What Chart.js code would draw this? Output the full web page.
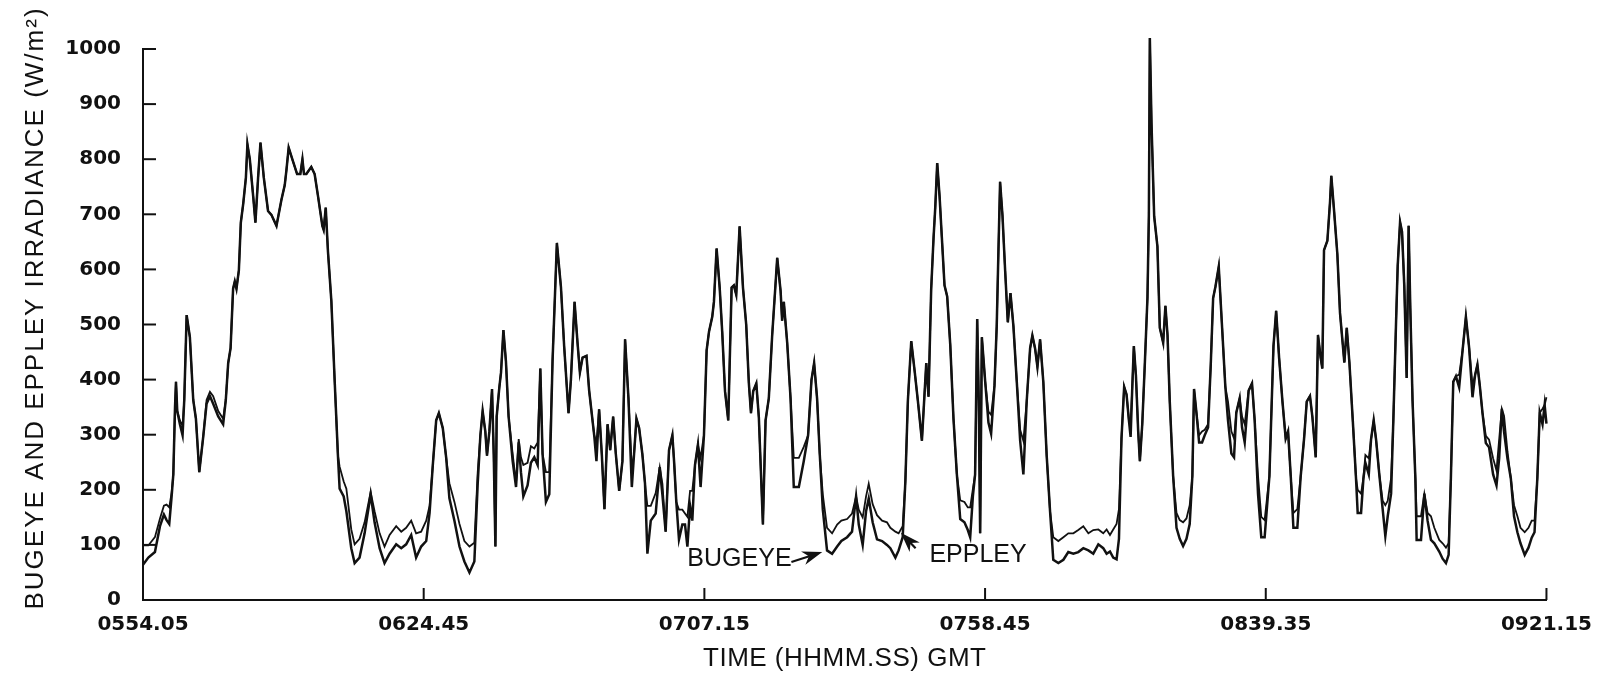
<!DOCTYPE html>
<html>
<head>
<meta charset="utf-8">
<script src="https://cdn.jsdelivr.net/npm/chart.js@4"></script>
<style>
  html, body { margin: 0; padding: 0; background: #fff; }
  .chart__box { width: 1597px; height: 674px; position: relative; }
</style>
</head>
<body>
<div class="chart__box"><canvas id="irradianceChart"></canvas></div>
<script>
// x is position along the record, 0 = 0554.05, 100 = 0921.15
const timeLabels = ['0554.05', '0624.45', '0707.15', '0758.45', '0839.35', '0921.15']
const timeTickPos = [0, 20, 40, 60, 80, 100]

const recordPos = [
  0.00, 0.38, 0.85, 1.21, 1.49, 1.68, 1.87, 2.04, 2.16, 2.28, 2.35, 2.44, 2.63, 2.82, 2.94, 3.11, 3.34, 3.58, 3.77, 4.01,
  4.29, 4.53, 4.77, 5.00, 5.36, 5.71, 5.90, 6.07, 6.24, 6.42, 6.54, 6.66, 6.83, 6.97, 7.14, 7.33, 7.44, 7.61, 7.85, 8.01,
  8.20, 8.37, 8.61, 8.91, 9.15, 9.51, 9.86, 10.10, 10.22, 10.38, 10.69, 10.98, 11.21, 11.36, 11.47, 11.64, 11.99, 12.23, 12.47, 12.78,
  12.87, 13.02, 13.18, 13.42, 13.66, 13.89, 14.01, 14.30, 14.49, 14.84, 15.08, 15.43, 15.79, 16.22, 16.50, 16.86,
  17.21, 17.57, 18.04, 18.40, 18.75, 19.11, 19.46, 19.82, 20.18, 20.42, 20.65, 20.89, 21.08, 21.36, 21.60, 21.83, 22.19, 22.55, 22.90, 23.26,
  23.61, 23.85, 24.04, 24.20, 24.39, 24.51, 24.68, 24.87, 24.99, 25.11, 25.20, 25.39, 25.51, 25.68, 25.86, 26.05, 26.34, 26.58, 26.77, 26.93,
  27.10, 27.40, 27.64, 27.88, 28.12, 28.31, 28.47, 28.71, 28.95, 29.18, 29.49, 29.78, 30.01, 30.32, 30.49, 30.75, 30.96, 31.13, 31.32, 31.60,
  31.79, 32.15, 32.31, 32.50, 32.69, 32.88, 33.10, 33.29, 33.50, 33.69, 33.93, 34.16,
  34.35, 34.59, 34.83, 34.99, 35.16, 35.35, 35.58, 35.77, 35.94, 36.18, 36.53, 36.82, 37.01, 37.24, 37.48, 37.72, 37.84, 38.00, 38.19, 38.43,
  38.62, 38.79, 38.98, 39.14, 39.33, 39.54, 39.73, 39.97, 40.16, 40.33, 40.56, 40.68, 40.87, 41.09, 41.27, 41.47, 41.70, 41.94, 42.10, 42.27,
  42.51, 42.75, 42.98, 43.17, 43.32, 43.48, 43.70, 43.88, 44.17, 44.36, 44.59, 44.83, 45.02, 45.19, 45.43, 45.54, 45.66, 45.90, 46.14, 46.37,
  46.73, 47.08, 47.39, 47.63, 47.82, 48.03, 48.22, 48.44, 48.74, 49.10, 49.46, 49.76, 50.17, 50.52, 50.81, 51.00,
  51.28, 51.52, 51.71, 51.99, 52.30, 52.66, 53.01, 53.25, 53.61, 53.84, 54.13, 54.32, 54.50, 54.74, 54.98, 55.21, 55.50, 55.69, 55.81, 55.97,
  56.16, 56.33, 56.45, 56.59, 56.76, 56.92, 57.11, 57.30, 57.52, 57.75, 57.99, 58.23, 58.53, 58.77, 58.94, 59.13, 59.29, 59.44, 59.55, 59.65,
  59.77, 60.01, 60.24, 60.43, 60.67, 60.83, 60.95, 61.07, 61.24, 61.43, 61.62, 61.81, 62.02, 62.26, 62.50, 62.73, 62.97, 63.21, 63.37, 63.56,
  63.73, 63.92, 64.15, 64.39, 64.63, 64.86, 65.22, 65.58, 65.93, 66.29, 66.64, 67.00, 67.36, 67.71,
  68.07, 68.42, 68.66, 68.90, 69.13, 69.37, 69.54, 69.72, 69.91, 70.08, 70.25, 70.37, 70.49, 70.60, 70.75, 70.91, 71.03, 71.20, 71.38, 71.57,
  71.67, 71.74, 71.86, 72.05, 72.28, 72.45, 72.69, 72.85, 73.00, 73.16, 73.40, 73.64, 73.87, 74.11, 74.35, 74.58, 74.77, 74.89, 75.06, 75.25,
  75.46, 75.65, 75.89, 76.08, 76.25, 76.41, 76.65, 76.89, 77.12, 77.31, 77.55, 77.74, 77.90, 78.14, 78.31, 78.50, 78.78, 79.02, 79.21, 79.45,
  79.68, 79.92, 80.26, 80.55, 80.74, 80.95, 81.19, 81.42, 81.59, 81.78, 81.97, 82.25, 82.49, 82.73, 82.92, 83.15, 83.32, 83.56, 83.72, 83.91,
  84.03, 84.15, 84.39, 84.58, 84.67, 84.86, 85.10, 85.29,
  85.60, 85.77, 85.96, 86.20, 86.43, 86.55, 86.79, 86.96, 87.10, 87.34, 87.50, 87.69, 87.86, 88.09, 88.33, 88.52, 88.69, 88.93, 89.09, 89.28,
  89.40, 89.57, 89.71, 89.87, 90.04, 90.18, 90.30, 90.46, 90.66, 90.75, 91.06, 91.30, 91.53, 91.77, 92.01, 92.36, 92.60, 92.84, 93.03, 93.19,
  93.36, 93.55, 93.78, 94.02, 94.26, 94.49, 94.73, 94.92, 95.08, 95.25, 95.44, 95.68, 95.91, 96.20, 96.44, 96.63, 96.82, 96.98, 97.22, 97.46,
  97.69, 97.93, 98.15, 98.45, 98.72, 98.95, 99.15, 99.35, 99.52, 99.72, 99.87, 100.00
]

const eppley = [
  99, 99, 114, 148, 171, 173, 168, 195, 228, 349, 396, 343, 326, 316, 363, 517, 477, 363, 329, 232,
  296, 363, 378, 370, 343, 329, 363, 430, 457, 565, 578, 565, 598, 685, 719, 766, 827, 800, 733, 685,
  766, 830, 766, 706, 699, 679, 726, 753, 780, 821, 796, 773, 773, 800, 773, 773, 786, 773, 733, 679,
  672, 712, 632, 543, 396, 262, 242, 215, 202, 128, 101, 111, 141, 196, 161, 121,
  97, 118, 134, 124, 131, 144, 121, 124, 144, 171, 245, 326, 339, 312, 259, 212, 178, 138, 107, 97,
  104, 232, 299, 343, 306, 262, 306, 383, 265, 97, 333, 386, 413, 490, 433, 333, 265, 212, 292, 259,
  245, 249, 279, 275, 286, 420, 265, 232, 232, 433, 648, 568, 460, 339, 400, 541, 467, 413, 440, 443,
  380, 299, 286, 346, 265, 165, 319, 272, 333, 265, 198, 252,
  473, 366, 238, 265, 329, 312, 265, 211, 171, 171, 194, 241, 211, 124, 272, 299, 252, 178, 164, 164,
  157, 151, 198, 198, 245, 282, 258, 299, 453, 487, 514, 541, 638, 567, 487, 379, 326, 567, 571, 554,
  678, 567, 500, 393, 339, 379, 393, 332, 137, 326, 366, 480, 554, 621, 561, 507, 541, 467, 366, 258,
  258, 278, 299, 399, 430, 366, 265, 191, 131, 121, 137, 144, 147, 157, 188, 164,
  150, 188, 211, 174, 154, 144, 141, 131, 124, 121, 134, 215, 362, 470, 416, 362, 289, 376, 430, 369,
  564, 658, 712, 793, 732, 658, 571, 551, 463, 329, 228, 181, 178, 168, 168, 201, 228, 510, 362, 121,
  477, 396, 342, 336, 389, 497, 631, 759, 698, 598, 504, 557, 497, 396, 309, 289, 362, 457, 480, 457,
  423, 473, 396, 262, 161, 114, 107, 114, 121, 121, 127, 134, 121, 127,
  128, 121, 128, 118, 128, 138, 165, 293, 387, 373, 326, 319, 387, 461, 407, 306, 252, 319, 427, 548,
  696, 1020, 864, 696, 642, 494, 467, 534, 481, 360, 225, 158, 145, 141, 148, 172, 225, 383, 340, 299,
  306, 309, 319, 427, 548, 568, 605, 494, 387, 360, 306, 293, 340, 366, 333, 319, 380, 393, 326, 225,
  151, 145, 225, 461, 525, 440, 360, 293, 306, 225, 158, 165, 225, 293, 360, 370, 333, 259, 481, 440,
  420, 635, 652, 723, 770, 709, 628, 521,
  431, 494, 431, 326, 221, 200, 193, 221, 263, 257, 291, 326, 291, 228, 180, 172, 180, 221, 326, 501,
  606, 686, 668, 571, 403, 679, 529, 361, 221, 152, 152, 193, 158, 152, 131, 109, 103, 95, 103, 221,
  396, 406, 409, 452, 514, 458, 389, 409, 427, 389, 340, 298, 291, 257, 235, 291, 347, 334, 270, 221,
  172, 152, 131, 123, 131, 144, 144, 221, 340, 347, 354, 368
]

const bugeye = [
  64, 77, 87, 134, 155, 145, 138, 188, 228, 349, 396, 343, 319, 299, 363, 517, 477, 363, 329, 232,
  296, 356, 370, 356, 333, 319, 363, 430, 457, 565, 578, 565, 598, 685, 719, 766, 827, 800, 733, 685,
  766, 830, 766, 706, 699, 679, 726, 753, 780, 821, 796, 773, 773, 800, 773, 773, 786, 773, 733, 679,
  672, 712, 632, 543, 396, 262, 202, 188, 161, 94, 67, 77, 121, 192, 141, 94,
  67, 84, 101, 94, 101, 118, 77, 97, 107, 158, 245, 326, 339, 312, 259, 185, 144, 97, 70, 50,
  70, 212, 299, 343, 306, 262, 306, 383, 265, 97, 333, 386, 413, 490, 433, 333, 252, 205, 286, 232,
  188, 208, 249, 259, 245, 420, 265, 178, 192, 433, 648, 568, 460, 339, 400, 541, 467, 413, 440, 443,
  380, 299, 252, 346, 265, 165, 319, 272, 333, 265, 198, 252,
  473, 366, 205, 265, 329, 312, 265, 211, 84, 144, 157, 241, 191, 124, 272, 299, 252, 178, 110, 137,
  137, 97, 171, 144, 245, 282, 205, 299, 453, 487, 514, 541, 638, 567, 487, 379, 326, 567, 571, 554,
  678, 567, 500, 393, 339, 379, 393, 332, 137, 326, 366, 480, 554, 621, 561, 507, 541, 467, 366, 205,
  205, 252, 299, 399, 430, 366, 265, 164, 90, 84, 97, 107, 114, 124, 188, 137,
  100, 161, 184, 141, 110, 107, 100, 94, 77, 90, 114, 215, 362, 470, 416, 362, 289, 376, 430, 369,
  564, 658, 712, 793, 732, 658, 571, 551, 463, 329, 228, 147, 141, 127, 114, 188, 228, 510, 362, 121,
  477, 396, 322, 302, 389, 497, 631, 759, 698, 598, 504, 557, 497, 396, 289, 228, 362, 457, 480, 457,
  423, 473, 396, 262, 161, 73, 67, 73, 87, 84, 87, 94, 90, 84,
  101, 94, 84, 88, 77, 74, 111, 293, 387, 373, 326, 296, 387, 461, 407, 306, 252, 319, 427, 548,
  696, 1020, 864, 696, 642, 494, 467, 534, 481, 360, 225, 131, 111, 98, 111, 138, 225, 383, 340, 286,
  286, 299, 313, 427, 548, 568, 605, 494, 387, 326, 266, 259, 340, 366, 313, 286, 380, 393, 326, 192,
  114, 114, 225, 461, 525, 440, 360, 293, 306, 225, 131, 131, 225, 293, 360, 370, 333, 259, 481, 440,
  420, 635, 652, 723, 770, 709, 628, 521,
  431, 494, 431, 326, 221, 158, 158, 221, 249, 228, 291, 326, 291, 228, 165, 116, 152, 193, 326, 501,
  606, 686, 668, 571, 403, 679, 529, 361, 221, 109, 109, 193, 144, 109, 103, 88, 75, 67, 82, 221,
  396, 406, 386, 452, 514, 458, 368, 409, 427, 389, 340, 285, 277, 228, 208, 257, 347, 305, 257, 221,
  152, 123, 103, 82, 95, 113, 123, 221, 340, 319, 354, 320
]

// labels with arrows, in axis units
const notes = [
  { text: 'BUGEYE', x: 42.5, y: 74, tail: [46.2, 69], tip: [48.4, 87] },
  { text: 'EPPLEY', x: 59.5, y: 82, tail: [55.05, 94], tip: [54.0, 122] }
]

const xTitle = 'TIME (HHMM.SS) GMT'
const yTitle = 'BUGEYE AND EPPLEY IRRADIANCE (W/m²)'
const ink = '#111111'

const toPoints = (vals) => recordPos.map((x, i) => ({ x: x, y: vals[i] }))

const overlay = {
  id: 'overlay',
  afterDraw(chart) {
    const ctx = chart.ctx
    const area = chart.chartArea
    const xs = chart.scales.x
    const ys = chart.scales.y
    ctx.save()
    ctx.strokeStyle = ink
    ctx.fillStyle = ink
    ctx.lineWidth = 2

    // tick marks point into the plot
    ys.ticks.forEach(t => {
      if (t.value === 0) return
      const py = ys.getPixelForValue(t.value)
      ctx.beginPath(); ctx.moveTo(area.left, py); ctx.lineTo(area.left + 13, py); ctx.stroke()
    })
    xs.ticks.forEach(t => {
      if (t.value === 0) return
      const px = xs.getPixelForValue(t.value)
      ctx.beginPath(); ctx.moveTo(px, area.bottom); ctx.lineTo(px, area.bottom - 12); ctx.stroke()
    })

    // axis titles
    ctx.textAlign = 'center'
    ctx.textBaseline = 'middle'
    ctx.font = '26px "Liberation Sans", Arial, sans-serif'
    ctx.letterSpacing = '0.5px'
    ctx.fillText(xTitle, (area.left + area.right) / 2, 659)
    ctx.save()
    ctx.translate(36, 308)
    ctx.rotate(-Math.PI / 2)
    ctx.letterSpacing = '2px'
    ctx.fillText(yTitle, 0, 0)
    ctx.restore()

    // annotations
    ctx.letterSpacing = '0px'
    ctx.font = '25px "Liberation Sans", Arial, sans-serif'
    notes.forEach(n => {
      ctx.fillText(n.text, xs.getPixelForValue(n.x), ys.getPixelForValue(n.y))
      const x0 = xs.getPixelForValue(n.tail[0]), y0 = ys.getPixelForValue(n.tail[1])
      const x1 = xs.getPixelForValue(n.tip[0]), y1 = ys.getPixelForValue(n.tip[1])
      const c = Math.cos(Math.atan2(y1 - y0, x1 - x0))
      const s = Math.sin(Math.atan2(y1 - y0, x1 - x0))
      ctx.lineWidth = 2.2
      ctx.beginPath(); ctx.moveTo(x0, y0); ctx.lineTo(x1 - 12 * c, y1 - 12 * s); ctx.stroke()
      ctx.beginPath()
      ctx.moveTo(x1, y1)
      ctx.lineTo(x1 - 20 * c + 7 * s, y1 - 20 * s - 7 * c)
      ctx.lineTo(x1 - 14 * c, y1 - 14 * s)
      ctx.lineTo(x1 - 20 * c - 7 * s, y1 - 20 * s + 7 * c)
      ctx.closePath()
      ctx.fill()
    })
    ctx.restore()
  }
}

const ctx = document.getElementById('irradianceChart')
const myChart = new Chart(ctx, {
  type: 'line',
  data: {
    datasets: [
      {
        label: 'Bugeye',
        data: toPoints(bugeye),
        borderColor: ink,
        borderWidth: 2.5,
        pointRadius: 0,
        tension: 0,
        fill: false,
        clip: false,
      },
      {
        label: 'Eppley',
        data: toPoints(eppley),
        borderColor: ink,
        borderWidth: 1.8,
        pointRadius: 0,
        tension: 0,
        fill: false,
        clip: false,
      },
    ],
  },
  options: {
    responsive: true,
    maintainAspectRatio: false,
    animation: false,
    layout: { padding: { top: 49, right: 48, left: 0, bottom: 0 } },
    plugins: {
      legend: { display: false },
      tooltip: { enabled: false },
    },
    scales: {
      x: {
        type: 'linear',
        min: 0,
        max: 100,
        afterBuildTicks: (scale) => { scale.ticks = timeTickPos.map(v => ({ value: v })) },
        afterFit: (scale) => { scale.height = 74 },
        grid: { display: false },
        border: { display: true, color: ink, width: 2 },
        ticks: {
          autoSkip: false,
          maxRotation: 0,
          padding: 5,
          color: ink,
          font: { family: '"DejaVu Sans", sans-serif', size: 20, weight: 'bold' },
          callback: (v) => timeLabels[timeTickPos.indexOf(v)],
        },
      },
      y: {
        min: 0,
        max: 1000,
        afterFit: (scale) => { scale.width = 143 },
        grid: { display: false },
        border: { display: true, color: ink, width: 2 },
        ticks: {
          stepSize: 100,
          padding: 14,
          color: ink,
          font: { family: '"DejaVu Sans", sans-serif', size: 20, weight: 'bold' },
          callback: (v) => String(v),
        },
      },
    },
  },
  plugins: [overlay],
})
</script>
</body>
</html>
